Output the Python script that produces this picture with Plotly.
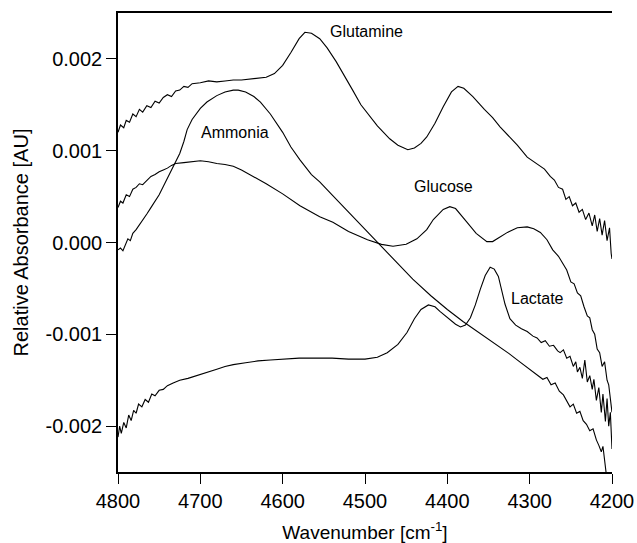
import plotly.graph_objects as go

# ---------------- data ----------------
glutamine_x = [4800, 4797, 4793, 4790, 4786, 4782, 4778, 4774, 4770, 4765, 4760, 4755, 4750, 4745,
               4740, 4735, 4730, 4725, 4720, 4715, 4710, 4700, 4690, 4680, 4670, 4660, 4650, 4640,
               4630, 4620, 4610, 4600, 4590, 4580, 4573, 4565, 4555, 4546, 4535, 4527, 4515, 4505,
               4497, 4485, 4470, 4460, 4448, 4440, 4432, 4425, 4415, 4405, 4395, 4387, 4380, 4369,
               4355, 4345, 4336, 4325, 4315, 4303, 4295, 4288, 4282, 4275, 4270, 4265, 4260, 4256,
               4252, 4248, 4244, 4240, 4236, 4232, 4228, 4224, 4221, 4218, 4215, 4212, 4209, 4206,
               4203, 4201, 4200]
glutamine_y = [0.00120, 0.00128, 0.00125, 0.00133, 0.00131, 0.00140, 0.00137, 0.00145, 0.00142,
               0.00149, 0.00147, 0.00154, 0.00152, 0.00158, 0.00161, 0.00159, 0.00165, 0.00166,
               0.00170, 0.00169, 0.00173, 0.00174, 0.00176, 0.00175, 0.00176, 0.00177, 0.00177,
               0.00178, 0.00179, 0.00180, 0.00184, 0.00193, 0.00207, 0.00222, 0.00229, 0.00228,
               0.00222, 0.00212, 0.00197, 0.00185, 0.00166, 0.00150, 0.00141, 0.00127, 0.00113,
               0.00106, 0.00101, 0.00103, 0.00108, 0.00115, 0.00130, 0.00148, 0.00164, 0.00170,
               0.00168, 0.00159, 0.00145, 0.00136, 0.00126, 0.00116, 0.00106, 0.00093, 0.00088,
               0.00083, 0.00080, 0.00072, 0.00068, 0.00060, 0.00058, 0.00047, 0.00050, 0.00040,
               0.00043, 0.00033, 0.00036, 0.00025, 0.00032, 0.00018, 0.00030, 0.00012, 0.00026,
               0.00008, 0.00024, 0.00002, 0.00016, -0.00012, -0.00018]

glucose_x = [4800, 4797, 4794, 4790, 4786, 4782, 4778, 4774, 4770, 4765, 4760, 4755, 4750, 4745,
             4740, 4735, 4730, 4720, 4710, 4700, 4690, 4680, 4670, 4660, 4650, 4640, 4620, 4600,
             4579, 4555, 4539, 4520, 4497, 4480, 4466, 4450, 4437, 4425, 4417, 4405, 4397, 4390,
             4382, 4376, 4365, 4352, 4345, 4335, 4327, 4315, 4303, 4295, 4287, 4279, 4272, 4265,
             4260, 4255, 4250, 4246, 4242, 4238, 4234, 4230, 4227, 4224, 4221, 4218, 4215, 4212,
             4209, 4206, 4204, 4202, 4200]
glucose_y = [0.00038, 0.00045, 0.00043, 0.00052, 0.00050, 0.00058, 0.00060, 0.00064, 0.00063,
             0.00068, 0.00072, 0.00074, 0.00077, 0.00079, 0.00081, 0.00084, 0.00086, 0.00087,
             0.00088, 0.00089, 0.00088, 0.00086, 0.00085, 0.00083, 0.00079, 0.00074, 0.00064,
             0.00053, 0.00040, 0.00028, 0.00022, 0.00012, 0.00003, -0.00002, -0.00004, -0.00002,
             0.00004, 0.00014, 0.00025, 0.00036, 0.00039, 0.00037, 0.00029, 0.00022, 0.00010,
             0.00001, 0.00001, 0.00007, 0.00011, 0.00016, 0.00017, 0.00015, 0.00011, 0.00003,
             -0.00008, -0.00015, -0.00022, -0.00030, -0.00043, -0.00045, -0.00055, -0.00058,
             -0.00070, -0.00080, -0.00082, -0.00095, -0.00100, -0.00116, -0.00120, -0.00135,
             -0.00130, -0.00150, -0.00155, -0.00170, -0.00185]

ammonia_x = [4800, 4797, 4794, 4791, 4788, 4785, 4782, 4778, 4774, 4770, 4765, 4760, 4755, 4750,
             4745, 4740, 4735, 4730, 4725, 4720, 4716, 4710, 4700, 4692, 4680, 4670, 4660, 4654,
             4645, 4635, 4627, 4615, 4600, 4590, 4579, 4565, 4555, 4540, 4520, 4500, 4482, 4460,
             4442, 4420, 4400, 4381, 4360, 4340, 4325, 4312, 4300, 4290, 4284, 4279, 4274, 4269,
             4264, 4259, 4255, 4251, 4247, 4243, 4239, 4235, 4231, 4227, 4223, 4219, 4216, 4213,
             4211, 4209, 4207]
ammonia_y = [-0.00008, -0.00006, -0.00009, -0.00002, 0.00004, 0.00002, 0.00010, 0.00014, 0.00019,
             0.00024, 0.00031, 0.00038, 0.00045, 0.00052, 0.00061, 0.00070, 0.00079, 0.00088,
             0.00097, 0.00110, 0.00123, 0.00134, 0.00146, 0.00153, 0.00160, 0.00164, 0.00166,
             0.00166, 0.00164, 0.00159, 0.00153, 0.00140, 0.00120, 0.00104, 0.00090, 0.00074,
             0.00066, 0.00052, 0.00033, 0.00014, -0.00002, -0.00023, -0.00040, -0.00058, -0.00073,
             -0.00086, -0.00099, -0.00112, -0.00121, -0.00130, -0.00138, -0.00144, -0.00149,
             -0.00147, -0.00155, -0.00153, -0.00162, -0.00166, -0.00172, -0.00179, -0.00176,
             -0.00186, -0.00184, -0.00194, -0.00198, -0.00205, -0.00203, -0.00215, -0.00221,
             -0.00228, -0.00222, -0.00240, -0.00252]

lactate_x = [4800, 4798, 4796, 4793, 4790, 4787, 4784, 4781, 4778, 4775, 4771, 4767, 4763, 4759,
             4755, 4750, 4745, 4740, 4733, 4725, 4715, 4700, 4690, 4680, 4670, 4660, 4645, 4630,
             4615, 4600, 4580, 4560, 4540, 4520, 4500, 4485, 4473, 4460, 4449, 4440, 4432, 4423,
             4415, 4409, 4397, 4390, 4384, 4378, 4372, 4366, 4360, 4354, 4348, 4343, 4338, 4334,
             4330, 4324, 4317, 4310, 4303, 4296, 4291, 4286, 4281, 4276, 4271, 4266, 4263, 4259,
             4255, 4251, 4247, 4244, 4242, 4239, 4236, 4233, 4230, 4227, 4224, 4222, 4219, 4216,
             4213, 4211, 4208, 4206, 4204, 4202, 4200]
lactate_y = [-0.00212, -0.00200, -0.00208, -0.00196, -0.00202, -0.00188, -0.00194, -0.00183,
             -0.00186, -0.00176, -0.00179, -0.00171, -0.00174, -0.00165, -0.00167, -0.00161,
             -0.00160, -0.00156, -0.00153, -0.00150, -0.00148, -0.00144, -0.00141, -0.00138,
             -0.00135, -0.00133, -0.00131, -0.00129, -0.00128, -0.00127, -0.00126, -0.00126,
             -0.00126, -0.00127, -0.00127, -0.00125, -0.00120, -0.00111, -0.00098, -0.00083,
             -0.00073, -0.00068, -0.00070, -0.00075, -0.00084, -0.00089, -0.00092, -0.00090,
             -0.00082, -0.00068, -0.00051, -0.00036, -0.00027, -0.00029, -0.00037, -0.00052,
             -0.00067, -0.00083, -0.00090, -0.00094, -0.00097, -0.00102, -0.00104, -0.00109,
             -0.00107, -0.00113, -0.00112, -0.00118, -0.00120, -0.00117, -0.00126, -0.00124,
             -0.00135, -0.00130, -0.00141, -0.00136, -0.00148, -0.00128, -0.00152, -0.00145,
             -0.00160, -0.00149, -0.00172, -0.00158, -0.00185, -0.00165, -0.00195, -0.00170,
             -0.00200, -0.00185, -0.00225]

x_ticks = [4800, 4700, 4600, 4500, 4400, 4300, 4200]
y_ticks = [0.002, 0.001, 0.0, -0.001, -0.002]
y_ticklabels = ["0.002", "0.001", "0.000", "-0.001", "-0.002"]
right_ticks = [0.0025, 0.0015, 0.0005, -0.0005, -0.0015, -0.0025]

labels = ["Glutamine", "Ammonia", "Glucose", "Lactate"]
label_x = [4498, 4658, 4405, 4291]
label_y = [0.0023, 0.0012, 0.00061, -0.00061]

# ---------------- figure ----------------
FONT = "Liberation Sans, Arial, Helvetica, sans-serif"
fig = go.Figure()
for xs, ys, name in [(glutamine_x, glutamine_y, "Glutamine"),
                     (glucose_x, glucose_y, "Glucose"),
                     (ammonia_x, ammonia_y, "Ammonia"),
                     (lactate_x, lactate_y, "Lactate")]:
    fig.add_trace(go.Scatter(x=xs, y=ys, mode="lines", name=name,
                             line=dict(color="black", width=1.1), showlegend=False))

for t, lx, ly in zip(labels, label_x, label_y):
    fig.add_annotation(x=lx, y=ly, text=t, showarrow=False,
                       font=dict(family=FONT, size=16, color="black"),
                       xanchor="center", yanchor="middle")

yrange = [-0.0025, 0.0025]
fig.update_layout(
    width=637, height=543,
    margin=dict(l=118, r=25, t=13, b=71, autoexpand=False),
    paper_bgcolor="white", plot_bgcolor="white",
    font=dict(family=FONT, size=19, color="black"),
    xaxis=dict(range=[4800, 4200], tickvals=x_ticks, ticks="outside", ticklen=10,
               tickwidth=1.3, tickcolor="black", showline=True, linecolor="black",
               linewidth=1.5, mirror=True, showgrid=False, zeroline=False,
               automargin=False, tickfont=dict(size=20),
               title=dict(text="Wavenumber [cm<sup>-1</sup>]", font=dict(size=19), standoff=15)),
    yaxis=dict(range=yrange, tickvals=y_ticks, ticktext=y_ticklabels, ticks="outside",
               ticklen=10, tickwidth=1.3, tickcolor="black", showline=True,
               linecolor="black", linewidth=1.5, showgrid=False, zeroline=False,
               automargin=False, tickfont=dict(size=20),
               title=dict(text="Relative Absorbance [AU]", font=dict(size=20), standoff=12)),
    yaxis2=dict(range=yrange, overlaying="y", side="right", tickvals=right_ticks,
                ticks="outside", ticklen=10, tickwidth=1.3, tickcolor="black",
                showticklabels=False, showline=True, linecolor="black", linewidth=1.5,
                showgrid=False, zeroline=False, automargin=False),
)

fig.write_html("out.html")
